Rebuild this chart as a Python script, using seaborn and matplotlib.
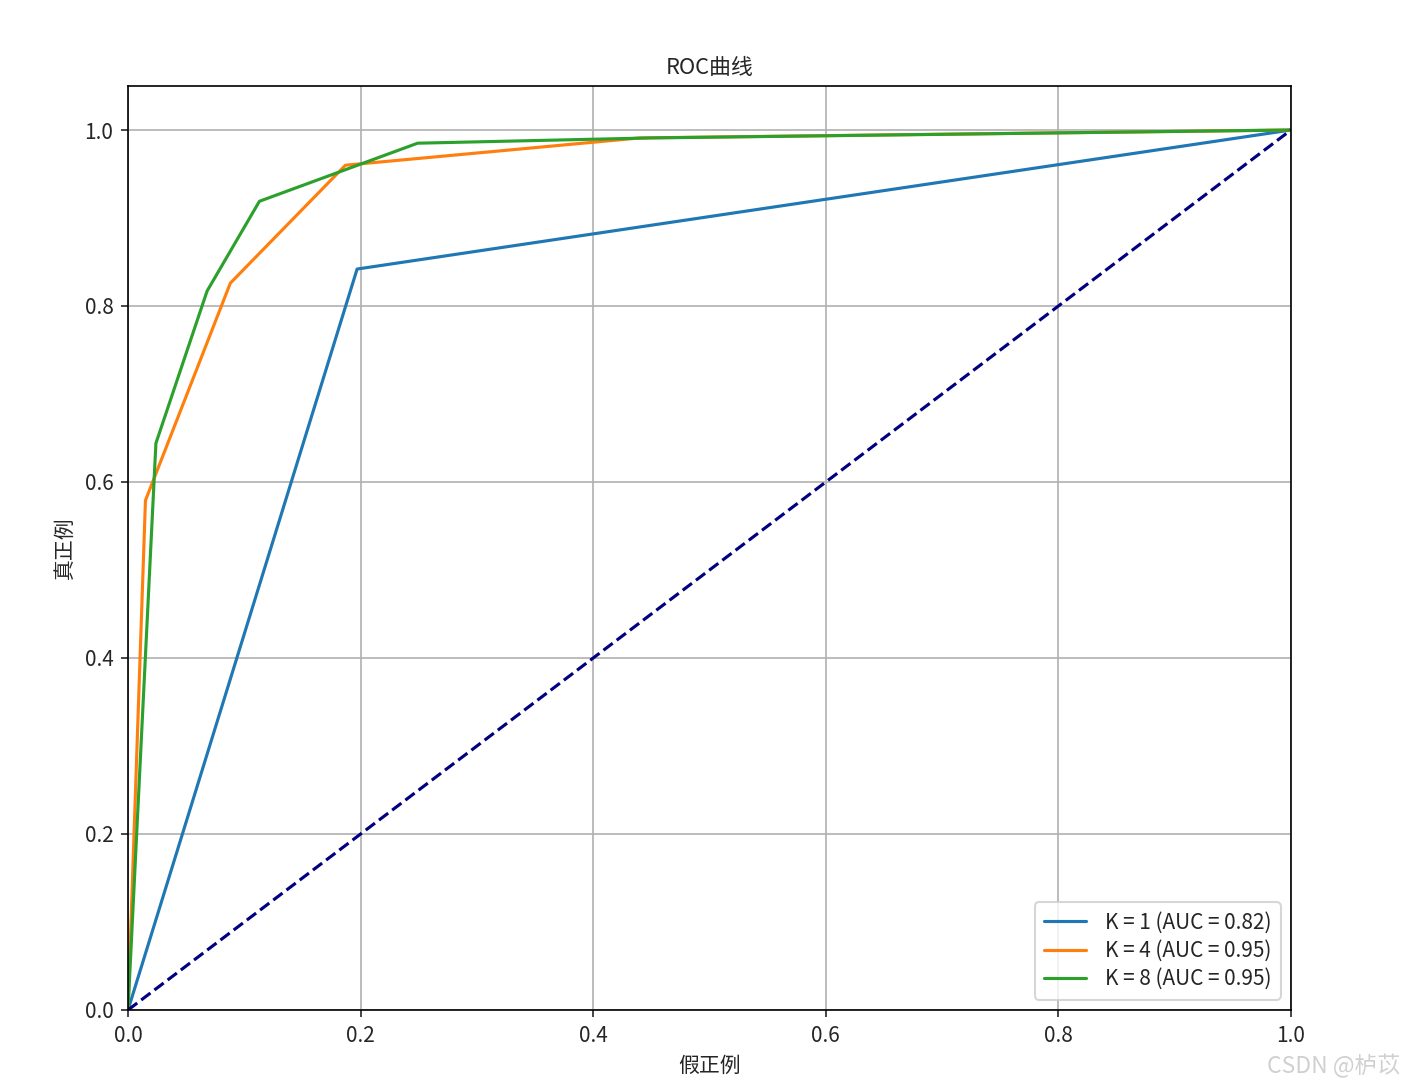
import pandas as pd
import seaborn as sns
import matplotlib.pyplot as plt

# ROC points
k_labels = ["K = 1 (AUC = 0.82)", "K = 4 (AUC = 0.95)", "K = 8 (AUC = 0.95)"]
fpr_k1 = [0.0, 0.197, 1.0]
tpr_k1 = [0.0, 0.842, 1.0]
fpr_k4 = [0.0, 0.015, 0.088, 0.187, 0.44, 1.0]
tpr_k4 = [0.0, 0.579, 0.826, 0.960, 0.991, 1.0]
fpr_k8 = [0.0, 0.024, 0.068, 0.113, 0.249, 0.45, 1.0]
tpr_k8 = [0.0, 0.644, 0.817, 0.919, 0.985, 0.991, 1.0]

frames = []
for label, fpr, tpr in zip(k_labels, [fpr_k1, fpr_k4, fpr_k8], [tpr_k1, tpr_k4, tpr_k8]):
    frames.append(pd.DataFrame({"fpr": fpr, "tpr": tpr, "model": label}))
roc = pd.concat(frames, ignore_index=True)

sns.set_style("ticks")
plt.rcParams["font.family"] = ["Noto Sans CJK SC", "DejaVu Sans"]
plt.rcParams["axes.unicode_minus"] = False

W, H, dpi = 1408, 1092, 150
fig = plt.figure(figsize=(W / dpi, H / dpi), dpi=dpi)
ax = fig.add_axes([128 / W, 1 - 1010 / H, (1291 - 128) / W, (1010 - 86) / H])

sns.lineplot(data=roc, x="fpr", y="tpr", hue="model", sort=False, estimator=None,
             palette=["#1f77b4", "#ff7f0e", "#2ca02c"], linewidth=1.5, ax=ax)
ax.plot([0, 1], [0, 1], color="navy", linestyle="--", linewidth=1.5)

ax.set_xlim(0.0, 1.0)
ax.set_ylim(0.0, 1.05)
ax.grid(True, color="#b0b0b0", linewidth=0.8)
ax.set_axisbelow(True)
ax.set_xlabel("假正例", fontsize=10)
ax.set_ylabel("真正例", fontsize=10)
ax.set_title("ROC曲线", fontsize=10.5)
ax.tick_params(labelsize=10)
for s in ax.spines.values():
    s.set_color("black")
    s.set_linewidth(0.8)
ax.legend(loc="lower right", fontsize=10, title=None, labelspacing=0.3,
          handletextpad=0.9, borderpad=0.45)

fig.text(1400 / W, 1 - 1066 / H, "CSDN @栌苡", ha="right", va="center",
         fontsize=11, color="#d0d0d0")

plt.savefig("out.png", dpi=dpi)
